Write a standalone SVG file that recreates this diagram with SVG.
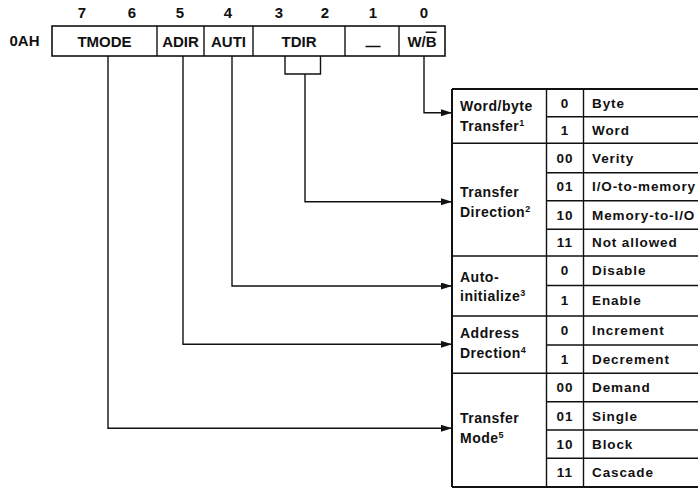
<svg xmlns="http://www.w3.org/2000/svg" width="698" height="488" viewBox="0 0 698 488">
  <style>
    text { font-family: "Liberation Sans", Arial, sans-serif; fill: #111; font-weight: bold; }
    .bit { font-size: 15px; text-anchor: middle; }
    .reg { font-size: 15px; text-anchor: middle; }
    .lbl { font-size: 14px; letter-spacing: 0.5px; }
    .num { font-size: 13.5px; text-anchor: middle; letter-spacing: 1px; }
    .val { font-size: 13.5px; letter-spacing: 0.9px; }
    .sup { font-size: 9px; }
    .box { fill: #fff; stroke: #111; stroke-width: 1.6; }
    .rule { stroke: #111; stroke-width: 1.4; fill: none; }
    .edge { stroke: #111; stroke-width: 2; fill: none; }
    .wire { stroke: #111; stroke-width: 1.4; fill: none; }
  </style>
  <defs>
    <marker id="arrow" markerUnits="userSpaceOnUse" markerWidth="12" markerHeight="8" refX="11" refY="3.5" orient="auto">
      <path d="M0,0 L11,3.5 L0,7 z" fill="#111"/>
    </marker>
  </defs>
  <rect width="698" height="488" fill="#fff"/>

  <!-- register 0AH with bit positions -->
  <g id="register">
    <text class="bit" x="82" y="17.5">7</text>
    <text class="bit" x="132" y="17.5">6</text>
    <text class="bit" x="180" y="17.5">5</text>
    <text class="bit" x="228" y="17.5">4</text>
    <text class="bit" x="279" y="17.5">3</text>
    <text class="bit" x="325" y="17.5">2</text>
    <text class="bit" x="373" y="17.5">1</text>
    <text class="bit" x="424" y="17.5">0</text>
    <text x="9.5" y="46" style="font-size:15px">0AH</text>
    <rect class="box" x="52" y="26" width="393" height="30"/>
    <line class="rule" x1="157" y1="26" x2="157" y2="56"/>
    <line class="rule" x1="204" y1="26" x2="204" y2="56"/>
    <line class="rule" x1="253" y1="26" x2="253" y2="56"/>
    <line class="rule" x1="345" y1="26" x2="345" y2="56"/>
    <line class="rule" x1="399" y1="26" x2="399" y2="56"/>
    <text class="reg" x="104.5" y="46.5">TMODE</text>
    <text class="reg" x="180.5" y="46.5">ADIR</text>
    <text class="reg" x="228.5" y="46.5">AUTI</text>
    <text class="reg" x="299" y="46.5">TDIR</text>
    <text class="reg" x="373" y="51">—</text>
    <text class="reg" x="422" y="46.5">W/<tspan text-decoration="overline">B</tspan></text>
  </g>

  <!-- field connectors -->
  <g id="connectors">
    <polyline class="wire" points="424,56 424,112.7 452,112.7" marker-end="url(#arrow)"/>
    <polyline class="wire" points="285,56 285,74 320.5,74 320.5,56"/>
    <polyline class="wire" points="305,74 305,201.7 452,201.7" marker-end="url(#arrow)"/>
    <polyline class="wire" points="232,56 232,286 452,286" marker-end="url(#arrow)"/>
    <polyline class="wire" points="183,56 183,344.3 452,344.3" marker-end="url(#arrow)"/>
    <polyline class="wire" points="108,56 108,428.3 452,428.3" marker-end="url(#arrow)"/>
  </g>

  <!-- field decode table -->
  <g id="table">
    <line class="edge" x1="452" y1="89" x2="452" y2="487"/>
    <line class="rule" x1="546.5" y1="89" x2="546.5" y2="487"/>
    <line class="rule" x1="583.5" y1="89" x2="583.5" y2="487"/>
    <!-- group boundaries -->
    <line class="edge" x1="452" y1="89" x2="700" y2="89"/>
    <line class="rule" x1="452" y1="143.3" x2="700" y2="143.3"/>
    <line class="rule" x1="452" y1="256" x2="700" y2="256"/>
    <line class="rule" x1="452" y1="316" x2="700" y2="316"/>
    <line class="rule" x1="452" y1="373.3" x2="700" y2="373.3"/>
    <line class="edge" x1="452" y1="487" x2="700" y2="487"/>
    <!-- rows within groups -->
    <line class="rule" x1="546.5" y1="116.7" x2="700" y2="116.7"/>
    <line class="rule" x1="546.5" y1="172.7" x2="700" y2="172.7"/>
    <line class="rule" x1="546.5" y1="200.7" x2="700" y2="200.7"/>
    <line class="rule" x1="546.5" y1="229.3" x2="700" y2="229.3"/>
    <line class="rule" x1="546.5" y1="285.5" x2="700" y2="285.5"/>
    <line class="rule" x1="546.5" y1="345" x2="700" y2="345"/>
    <line class="rule" x1="546.5" y1="401.7" x2="700" y2="401.7"/>
    <line class="rule" x1="546.5" y1="430" x2="700" y2="430"/>
    <line class="rule" x1="546.5" y1="458.3" x2="700" y2="458.3"/>
  </g>

  <g id="word-byte">
    <text class="lbl" x="460" y="110.5">Word/byte</text>
    <text class="lbl" x="460" y="131">Transfer<tspan class="sup" dy="-5">1</tspan></text>
    <text class="num" x="565" y="107.5">0</text><text class="val" x="592" y="107.5">Byte</text>
    <text class="num" x="565" y="135">1</text><text class="val" x="592" y="135">Word</text>
  </g>

  <g id="transfer-direction">
    <text class="lbl" x="460" y="196.7">Transfer</text>
    <text class="lbl" x="460" y="216.7">Direction<tspan class="sup" dy="-5">2</tspan></text>
    <text class="num" x="565" y="163.3">00</text><text class="val" x="592" y="163.3">Verity</text>
    <text class="num" x="565" y="191">01</text><text class="val" x="592" y="191">I/O-to-memory</text>
    <text class="num" x="565" y="219.5">10</text><text class="val" x="592" y="219.5">Memory-to-I/O</text>
    <text class="num" x="565" y="247">11</text><text class="val" x="592" y="247">Not allowed</text>
  </g>

  <g id="auto-initialize">
    <text class="lbl" x="460" y="281.7">Auto-</text>
    <text class="lbl" x="460" y="300.7">initialize<tspan class="sup" dy="-5">3</tspan></text>
    <text class="num" x="565" y="275">0</text><text class="val" x="592" y="275">Disable</text>
    <text class="num" x="565" y="305">1</text><text class="val" x="592" y="305">Enable</text>
  </g>

  <g id="address-direction">
    <text class="lbl" x="460" y="338.3">Address</text>
    <text class="lbl" x="460" y="358.3">Drection<tspan class="sup" dy="-5">4</tspan></text>
    <text class="num" x="565" y="335">0</text><text class="val" x="592" y="335">Increment</text>
    <text class="num" x="565" y="363.5">1</text><text class="val" x="592" y="363.5">Decrement</text>
  </g>

  <g id="transfer-mode">
    <text class="lbl" x="460" y="423.3">Transfer</text>
    <text class="lbl" x="460" y="443.3">Mode<tspan class="sup" dy="-5">5</tspan></text>
    <text class="num" x="565" y="392">00</text><text class="val" x="592" y="392">Demand</text>
    <text class="num" x="565" y="420.5">01</text><text class="val" x="592" y="420.5">Single</text>
    <text class="num" x="565" y="448.5">10</text><text class="val" x="592" y="448.5">Block</text>
    <text class="num" x="565" y="477">11</text><text class="val" x="592" y="477">Cascade</text>
  </g>
</svg>
